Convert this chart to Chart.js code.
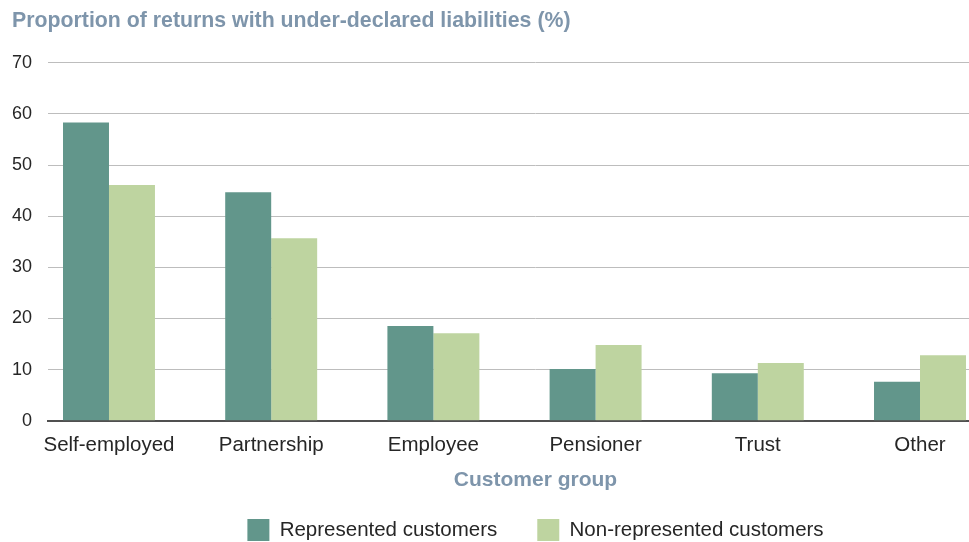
<!DOCTYPE html>
<html>
<head>
<meta charset="utf-8">
<title>Under-declared liabilities by customer group</title>
<script src="https://cdn.jsdelivr.net/npm/chart.js@4.4.1/dist/chart.umd.min.js"></script>
<style>
  html, body { margin: 0; padding: 0; background: #ffffff; overflow: hidden; }
  #wrap { width: 1023px; height: 551px; }
</style>
</head>
<body>
<div id="wrap"><canvas id="chart" width="1023" height="551"></canvas></div>
<script>
// Customer groups along the x axis
const categories = ['Self-employed', 'Partnership', 'Employee', 'Pensioner', 'Trust', 'Other'];

// Proportion of returns with under-declared liabilities (%)
const represented = [58.3, 44.7, 18.5, 10.1, 9.3, 7.6];
const nonRepresented = [46.1, 35.7, 17.1, 14.8, 11.3, 12.8];

// Value axis ticks
const yTicks = [0, 10, 20, 30, 40, 50, 60, 70];

const seriesNames = ['Represented customers', 'Non-represented customers'];

const TEAL = '#62968b';
const SAGE = '#bed4a0';
const SLATE = '#7e95ab';
const INK = '#262626';
const FONT = "'Liberation Sans', Arial, Helvetica, sans-serif";

// Bars are placed on a numeric index axis so the groups can sit where they do on the page
const toPoints = (vals) => vals.map((v, i) => ({ x: i, y: v }));

new Chart(document.getElementById('chart'), {
  type: 'bar',
  data: {
    datasets: [
      { label: seriesNames[0], data: toPoints(represented), backgroundColor: TEAL, borderWidth: 0 },
      { label: seriesNames[1], data: toPoints(nonRepresented), backgroundColor: SAGE, borderWidth: 0 }
    ]
  },
  options: {
    responsive: false,
    animation: false,
    devicePixelRatio: 1,
    layout: { padding: { left: 12, top: 0, right: 0, bottom: 0 } },
    datasets: {
      bar: { barPercentage: 1.0, categoryPercentage: 0.567 }
    },
    plugins: {
      tooltip: { enabled: false },
      title: {
        display: true,
        text: 'Proportion of returns with under-declared liabilities (%)',
        align: 'start',
        color: SLATE,
        font: { family: FONT, size: 21.3, weight: 'bold' },
        padding: { top: 8.6, bottom: 28.6 }
      },
      legend: {
        display: true,
        position: 'bottom',
        fullSize: false,
        labels: {
          boxWidth: 22,
          boxHeight: 22,
          padding: 40,
          color: INK,
          font: { family: FONT, size: 20.5 }
        }
      }
    },
    scales: {
      x: {
        type: 'linear',
        offset: false,
        min: -0.376,
        max: 5.635,
        z: 1,
        grid: { display: false, drawTicks: false },
        border: { display: true, color: '#505050', width: 2 },
        ticks: {
          stepSize: 1,
          includeBounds: false,
          autoSkip: false,
          maxRotation: 0,
          padding: 12,
          color: INK,
          font: { family: FONT, size: 20.5 },
          callback: (v) => (Number.isInteger(v) && categories[v] !== undefined ? categories[v] : '')
        },
        title: {
          display: true,
          text: 'Customer group',
          color: SLATE,
          font: { family: FONT, size: 21, weight: 'bold' },
          padding: { top: -1.2, bottom: -14.3 }
        }
      },
      y: {
        min: yTicks[0],
        max: yTicks[yTicks.length - 1],
        afterFit: (scale) => { scale.width = 36; },
        afterBuildTicks: (scale) => { scale.ticks = yTicks.map((v) => ({ value: v })); },
        grid: {
          drawTicks: false,
          color: (ctx) => (ctx.tick && ctx.tick.value === 0 ? 'rgba(0,0,0,0)' : '#bdbdbd'),
          lineWidth: 1
        },
        border: { display: false },
        ticks: {
          padding: 16,
          color: INK,
          font: { family: FONT, size: 18 }
        }
      }
    }
  }
});
</script>
</body>
</html>
